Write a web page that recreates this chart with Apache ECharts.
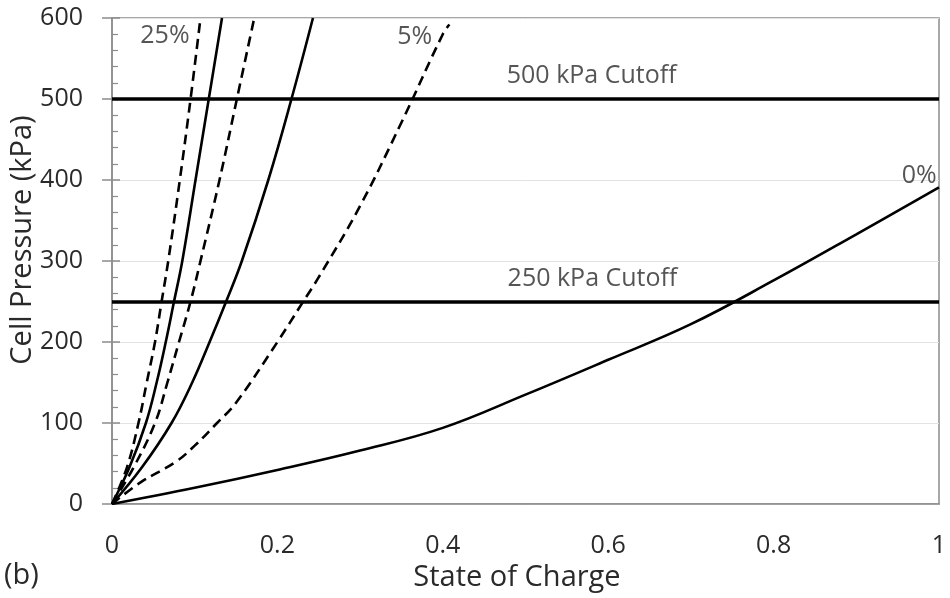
<!DOCTYPE html>
<html>
<head>
<meta charset="utf-8">
<script src="https://cdn.jsdelivr.net/npm/echarts@6/dist/echarts.min.js"></script>
<style>
  html, body { margin: 0; padding: 0; background: #fff; }
  #chart { width: 950px; height: 598px; }
</style>
</head>
<body>
<div id="chart"></div>
<script>
// pressure levels shared by the steep curves (kPa)
const pSteep = [0, 45, 100, 150, 200, 250, 300, 400, 500, 600]
// state of charge where each steep curve reaches those pressures
const soc25 = [0, 0.018, 0.032, 0.042, 0.052, 0.060, 0.068, 0.082, 0.095, 0.107]
const soc20 = [0, 0.021, 0.041, 0.054, 0.065, 0.075, 0.085, 0.101, 0.117, 0.133]
const soc15 = [0, 0.026, 0.052, 0.067, 0.081, 0.095, 0.107, 0.130, 0.151, 0.172]
const soc10 = [0, 0.036, 0.072, 0.097, 0.118, 0.138, 0.157, 0.189, 0.217, 0.243]

const soc05 = [0, 0.035, 0.077, 0.100, 0.127, 0.150, 0.200, 0.230, 0.250, 0.300, 0.350, 0.400, 0.408]
const p05 = [0, 27, 52, 72, 100, 125, 200, 248, 280, 368, 471, 580, 592]

const soc00 = [0, 0.1, 0.2, 0.3, 0.4, 0.5, 0.6, 0.7, 0.8, 0.9, 1]
const p00 = [0, 20, 42, 66, 94, 135, 178, 222, 276, 333, 391]

const cutoffs = [500, 250]

// text annotations placed in data coordinates
const noteText = ["25%", "5%", "0%", "500 kPa Cutoff", "250 kPa Cutoff"]
const noteSoc = [0.064, 0.366, 0.976, 0.58, 0.581]
const noteP = [578, 577, 405, 528, 278]

const xTicks = [0, 0.2, 0.4, 0.6, 0.8, 1]

const zip = (xs, ys) => xs.map((x, i) => [x, ys[i]])

const textColor = "#2a2a2a"
const font = "'Open Sans'"

const curve = (name, data, dashed) => ({
    name: name,
    type: "line",
    data: data,
    smooth: 0.4,
    showSymbol: false,
    symbol: "none",
    lineStyle: {
        color: "#000",
        width: 2.6,
        type: dashed ? [10, 6] : "solid",
    },
    z: 3,
})

const chart = echarts.init(document.getElementById("chart"), null, { renderer: "canvas" })

chart.setOption({
    animation: false,
    backgroundColor: "#fff",
    textStyle: { fontFamily: font },
    grid: {
        left: 112,
        right: 11,
        top: 18,
        bottom: 94,
        show: true,
        borderColor: "#8c8c8c",
        borderWidth: 1.5,
    },
    xAxis: {
        type: "value",
        min: xTicks[0],
        max: xTicks[xTicks.length - 1],
        interval: 0.2,
        axisLine: { show: true, lineStyle: { color: "#8c8c8c", width: 1.5 } },
        axisTick: { show: false },
        splitLine: { show: false },
        axisLabel: { color: textColor, fontSize: 25, fontFamily: font, margin: 29 },
    },
    yAxis: [
        {
            type: "value",
            min: 0,
            max: 600,
            interval: 100,
            axisLine: { show: true, lineStyle: { color: "#8c8c8c", width: 1.5 } },
            axisTick: { show: true, inside: false, length: 10, lineStyle: { color: "#8c8c8c", width: 1.5 } },
            splitLine: { show: true, lineStyle: { color: "#e2e2e2", width: 1 } },
            axisLabel: { color: textColor, fontSize: 25, fontFamily: font, margin: 29 },
        },
        {
            // overlay axis carrying the inward major and minor ticks
            type: "value",
            min: 0,
            max: 600,
            interval: 100,
            position: "left",
            axisLine: { show: false },
            axisTick: { show: true, inside: true, length: 8, lineStyle: { color: "#8c8c8c", width: 1.5 } },
            minorTick: { show: true, splitNumber: 5, length: 6, lineStyle: { color: "#8c8c8c", width: 1.2 } },
            splitLine: { show: false },
            axisLabel: { show: false },
        },
    ],
    series: [
        curve("25%", zip(soc25, pSteep), true),
        curve("20%", zip(soc20, pSteep), false),
        curve("15%", zip(soc15, pSteep), true),
        curve("10%", zip(soc10, pSteep), false),
        curve("5%", zip(soc05, p05), true),
        Object.assign(curve("0%", zip(soc00, p00), false), {
            markLine: {
                silent: true,
                symbol: "none",
                label: { show: false },
                lineStyle: { color: "#000", width: 3.5, type: "solid" },
                data: cutoffs.map((v) => ({ yAxis: v })),
            },
        }),
        {
            name: "notes",
            type: "scatter",
            symbolSize: 0,
            data: noteSoc.map((x, i) => ({ value: [x, noteP[i]], name: noteText[i] })),
            label: {
                show: true,
                position: "inside",
                formatter: "{b}",
                color: textColor,
                fontSize: 25,
                fontFamily: font,
            },
            z: 5,
        },
    ],
    graphic: [
        {
            type: "text",
            x: 23,
            y: 240,
            rotation: Math.PI / 2,
            style: {
                text: "Cell Pressure (kPa)",
                align: "center",
                verticalAlign: "middle",
                fill: textColor,
                fontSize: 29,
                fontFamily: font,
            },
        },
        {
            type: "text",
            x: 517,
            y: 578,
            style: {
                text: "State of Charge",
                align: "center",
                verticalAlign: "middle",
                fill: textColor,
                fontSize: 29,
                fontFamily: font,
            },
        },
        {
            type: "text",
            x: 4,
            y: 576,
            style: {
                text: "(b)",
                align: "left",
                verticalAlign: "middle",
                fill: textColor,
                fontSize: 29,
                fontFamily: font,
            },
        },
    ],
})
</script>
</body>
</html>
